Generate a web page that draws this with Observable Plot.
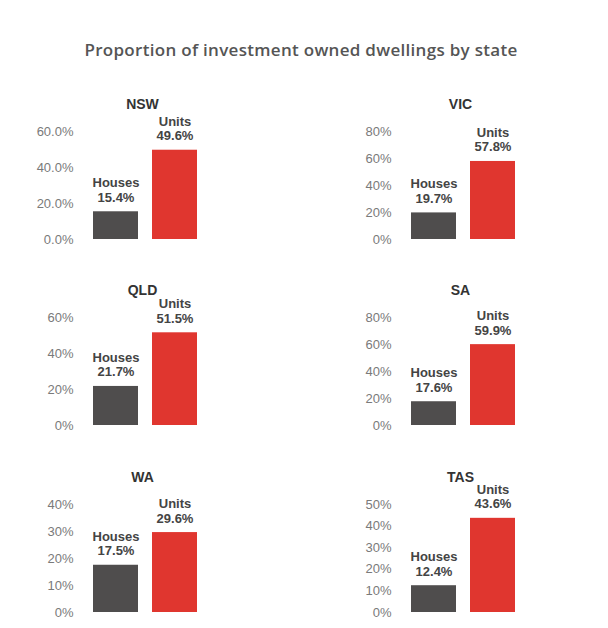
<!DOCTYPE html>
<html><head><meta charset="utf-8">
<script src="https://cdn.jsdelivr.net/npm/d3@7"></script>
<script src="https://cdn.jsdelivr.net/npm/@observablehq/plot@0.6"></script>
<style>
html,body{margin:0;padding:0;background:#fff;overflow:hidden;}
#wrap{position:relative;width:608px;height:628px;}
#title{position:absolute;left:0;width:602px;top:38px;text-align:center;font:600 17px "Open Sans",sans-serif;letter-spacing:0.3px;color:#555;white-space:nowrap;}
.panel{position:absolute;}
</style></head><body><div id="wrap"><div id="title">Proportion of investment owned dwellings by state</div></div>
<script>
const states = ["NSW", "VIC", "QLD", "SA", "WA", "TAS"];
const categories = ["Houses", "Units"];
const houses = [15.4, 19.7, 21.7, 17.6, 17.5, 12.4];
const units = [49.6, 57.8, 51.5, 59.9, 29.6, 43.6];
const yMax = [60, 80, 60, 80, 40, 50];
const tickStep = [20, 20, 20, 20, 10, 10];
const tickDecimals = [1, 0, 0, 0, 0, 0];
const colors = ["#4f4d4d", "#e0362f"];

const wrap = document.getElementById("wrap");
const lefts = [0, 318];
const tops = [86.5, 272.5, 459.5];

states.forEach((s, i) => {
  const data = categories.map((c, j) => ({category: c, value: j === 0 ? houses[i] : units[i]}));
  const ticks = d3.range(0, yMax[i] + 1e-9, tickStep[i]);
  const fmt = d => d.toFixed(tickDecimals[i]) + "%";
  const chart = Plot.plot({
    width: 250, height: 160,
    marginTop: 44, marginBottom: 8, marginLeft: 85, marginRight: 45,
    style: {background: "transparent", fontFamily: "'Liberation Sans', Arial, sans-serif"},
    x: {domain: categories, paddingInner: 0.233, paddingOuter: 0.117, axis: null},
    y: {domain: [0, yMax[i]]},
    color: {domain: categories, range: colors},
    marks: [
      Plot.axisY({ticks, tickFormat: fmt, tickSize: 0, tickPadding: 12, fontSize: 13, fill: "#7a7a7a", label: null}),
      Plot.barY(data, {x: "category", y: "value", fill: "category"}),
      Plot.text(data, {x: "category", y: "value", text: d => `${d.category}\n${d.value.toFixed(1)}%`,
        lineAnchor: "bottom", dy: -10, fontWeight: "bold", fontSize: 13, fill: "#444", lineHeight: 1.12}),
      Plot.text([s], {frameAnchor: "top", text: d => d, dy: -27, dx: -3, lineAnchor: "middle",
        fontWeight: "bold", fontSize: 14, fill: "#333"})
    ]
  });
  chart.classList.add("panel");
  chart.style.left = lefts[i % 2] + "px";
  chart.style.top = tops[Math.floor(i / 2)] + "px";
  wrap.appendChild(chart);
});
</script>
</body></html>
